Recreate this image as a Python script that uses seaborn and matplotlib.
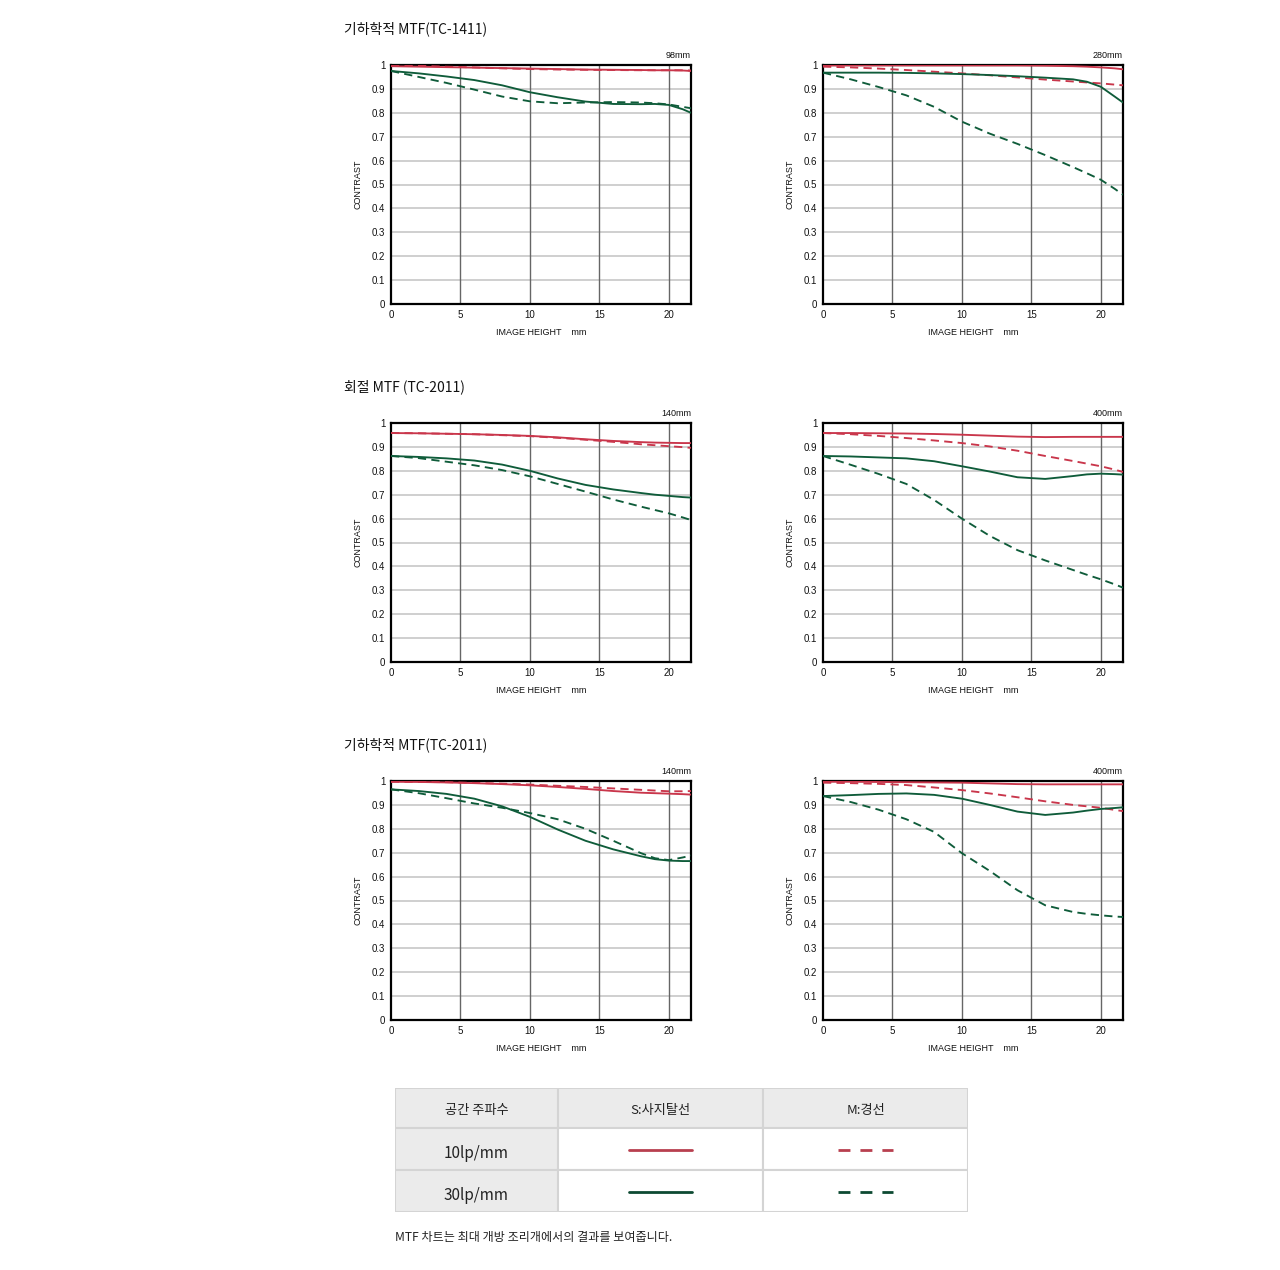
import numpy as np
import pandas as pd
import matplotlib
matplotlib.use("Agg")
import matplotlib.pyplot as plt
import seaborn as sns
from matplotlib.patches import Rectangle
from matplotlib.lines import Line2D

sns.set_style("white")
plt.rcParams["font.family"] = ["Liberation Sans", "DejaVu Sans"]
KR = ["Noto Sans CJK KR", "DejaVu Sans"]

# image height positions (mm) at which the curves were read
height_mm = [0, 2, 4, 6, 8, 10, 12, 14, 16, 18, 19, 20, 21, 21.6]

# geometric MTF (TC-1411), 98mm
s10_98 = [0.995, 0.993, 0.991, 0.989, 0.987, 0.985, 0.983, 0.981, 0.980, 0.979, 0.978, 0.978, 0.977, 0.975]
m10_98 = [1.000, 0.997, 0.993, 0.990, 0.986, 0.983, 0.981, 0.980, 0.979, 0.978, 0.978, 0.978, 0.978, 0.977]
s30_98 = [0.975, 0.965, 0.952, 0.937, 0.915, 0.886, 0.865, 0.847, 0.837, 0.836, 0.837, 0.833, 0.815, 0.800]
m30_98 = [0.975, 0.950, 0.925, 0.897, 0.868, 0.848, 0.840, 0.843, 0.845, 0.843, 0.840, 0.835, 0.825, 0.819]

# geometric MTF (TC-1411), 280mm
s10_280 = [0.998, 0.998, 0.998, 0.998, 0.998, 0.998, 0.998, 0.998, 0.997, 0.995, 0.993, 0.990, 0.986, 0.982]
m10_280 = [0.993, 0.990, 0.985, 0.979, 0.972, 0.965, 0.957, 0.948, 0.939, 0.931, 0.927, 0.923, 0.918, 0.915]
s30_280 = [0.968, 0.968, 0.968, 0.967, 0.965, 0.962, 0.958, 0.953, 0.947, 0.940, 0.930, 0.909, 0.868, 0.843]
m30_280 = [0.968, 0.940, 0.908, 0.873, 0.825, 0.763, 0.713, 0.670, 0.623, 0.573, 0.547, 0.520, 0.482, 0.457]

# diffraction MTF (TC-2011), 140mm
s10_d140 = [0.958, 0.957, 0.955, 0.953, 0.950, 0.946, 0.940, 0.932, 0.925, 0.920, 0.918, 0.917, 0.916, 0.916]
m10_d140 = [0.958, 0.957, 0.955, 0.953, 0.949, 0.945, 0.938, 0.930, 0.921, 0.911, 0.907, 0.903, 0.899, 0.896]
s30_d140 = [0.862, 0.858, 0.852, 0.843, 0.826, 0.800, 0.768, 0.741, 0.722, 0.707, 0.700, 0.695, 0.690, 0.688]
m30_d140 = [0.862, 0.853, 0.838, 0.823, 0.803, 0.777, 0.745, 0.713, 0.680, 0.650, 0.636, 0.622, 0.605, 0.594]

# diffraction MTF (TC-2011), 400mm
s10_d400 = [0.958, 0.958, 0.957, 0.956, 0.954, 0.951, 0.947, 0.943, 0.941, 0.942, 0.942, 0.942, 0.942, 0.942]
m10_d400 = [0.958, 0.953, 0.946, 0.937, 0.927, 0.916, 0.902, 0.884, 0.862, 0.841, 0.830, 0.819, 0.805, 0.795]
s30_d400 = [0.862, 0.860, 0.856, 0.852, 0.840, 0.819, 0.797, 0.773, 0.766, 0.778, 0.785, 0.788, 0.786, 0.784]
m30_d400 = [0.862, 0.825, 0.787, 0.745, 0.678, 0.600, 0.528, 0.468, 0.425, 0.385, 0.365, 0.346, 0.325, 0.311]

# geometric MTF (TC-2011), 140mm
s10_g140 = [0.997, 0.996, 0.994, 0.991, 0.987, 0.982, 0.975, 0.967, 0.958, 0.951, 0.949, 0.947, 0.945, 0.943]
m10_g140 = [0.997, 0.996, 0.995, 0.992, 0.989, 0.985, 0.980, 0.975, 0.969, 0.963, 0.960, 0.957, 0.957, 0.958]
s30_g140 = [0.965, 0.958, 0.946, 0.926, 0.894, 0.850, 0.797, 0.750, 0.714, 0.685, 0.673, 0.667, 0.665, 0.665]
m30_g140 = [0.965, 0.949, 0.928, 0.906, 0.888, 0.866, 0.840, 0.800, 0.750, 0.698, 0.677, 0.669, 0.680, 0.688]

# geometric MTF (TC-2011), 400mm
s10_g400 = [0.997, 0.997, 0.996, 0.995, 0.994, 0.993, 0.990, 0.987, 0.986, 0.986, 0.986, 0.986, 0.986, 0.986]
m10_g400 = [0.993, 0.991, 0.988, 0.983, 0.973, 0.962, 0.948, 0.932, 0.915, 0.900, 0.894, 0.888, 0.879, 0.874]
s30_g400 = [0.937, 0.941, 0.946, 0.948, 0.942, 0.926, 0.900, 0.872, 0.858, 0.868, 0.876, 0.883, 0.887, 0.890]
m30_g400 = [0.937, 0.912, 0.880, 0.840, 0.787, 0.698, 0.624, 0.543, 0.480, 0.452, 0.444, 0.438, 0.433, 0.431]

section_titles = ["기하학적 MTF(TC-1411)", "회절 MTF (TC-2011)", "기하학적 MTF(TC-2011)"]
focal_labels = [["98mm", "280mm"], ["140mm", "400mm"], ["140mm", "400mm"]]
chart_data = [
    [(s10_98, m10_98, s30_98, m30_98), (s10_280, m10_280, s30_280, m30_280)],
    [(s10_d140, m10_d140, s30_d140, m30_d140), (s10_d400, m10_d400, s30_d400, m30_d400)],
    [(s10_g140, m10_g140, s30_g140, m30_g140), (s10_g400, m10_g400, s30_g400, m30_g400)],
]

table_header = ["공간 주파수", "S:사지탈선", "M:경선"]
table_rows = ["10lp/mm", "30lp/mm"]
footnote = "MTF 차트는 최대 개방 조리개에서의 결과를 보여줍니다."

RED = "#c9364b"
GREEN = "#0f5c3a"
W, H = 1280, 1270

fig = plt.figure(figsize=(W / 100, H / 100), dpi=100)

col_left = [391, 823]
row_top = [65, 423, 781]
ax_w, ax_h = 300, 239
title_y = [29, 387, 745]

for r in range(3):
    fig.text(344 / W, 1 - title_y[r] / H, section_titles[r], family=KR,
             fontsize=10, ha="left", va="center", color="#111111")
    for c in range(2):
        ax = fig.add_axes([col_left[c] / W, 1 - (row_top[r] + ax_h) / H, ax_w / W, ax_h / H])
        s10, m10, s30, m30 = chart_data[r][c]
        df = pd.DataFrame({"h": height_mm, "s10": s10, "m10": m10, "s30": s30, "m30": m30})
        for col, color, dashed in [("s10", RED, False), ("m10", RED, True),
                                   ("s30", GREEN, False), ("m30", GREEN, True)]:
            ls = (0, (4.4, 2.8)) if dashed else "-"
            sns.lineplot(data=df, x="h", y=col, ax=ax, color=color, linestyle=ls,
                         linewidth=1.35, zorder=3)
        ax.set_xlim(0, 21.6)
        ax.set_ylim(0, 1)
        ax.set_xticks([0, 5, 10, 15, 20])
        ax.set_xticklabels(["0", "5", "10", "15", "20"])
        yt = np.round(np.arange(0, 1.01, 0.1), 1)
        ax.set_yticks(yt)
        ax.set_yticklabels(["0"] + [f"{v:g}" for v in yt[1:-1]] + ["1"])
        for v in yt[1:-1]:
            ax.axhline(v, color="#cccccc", linewidth=1.3, zorder=1)
        for v in [5, 10, 15, 20]:
            ax.axvline(v, color="#666666", linewidth=1.0, zorder=1)
        ax.tick_params(length=0, labelsize=7, pad=4, colors="#111111")
        for sp in ax.spines.values():
            sp.set_color("black")
            sp.set_linewidth(1.6)
            sp.set_visible(True)
        ax.set_xlabel("IMAGE HEIGHT    mm", fontsize=6.5, labelpad=6, color="#111111")
        ax.set_ylabel("CONTRAST", fontsize=6.5, labelpad=7, color="#111111")
        ax.text(1.0, 1.02, focal_labels[r][c], transform=ax.transAxes, ha="right",
                va="bottom", fontsize=6.5, color="#111111")

# legend table
tx, ty, tw, th = 395, 1088, 573, 124
tab = fig.add_axes([tx / W, 1 - (ty + th) / H, tw / W, th / H])
tab.set_xlim(0, 1)
tab.set_ylim(0, 1)
tab.axis("off")
col_edges = [0, 163 / tw, 368 / tw, 1]
row_edges = [1, 84 / th, 42 / th, 0]
grey = "#ebebeb"
for i in range(3):
    for j in range(3):
        fill = grey if (i == 0 or j == 0) else "white"
        tab.add_patch(Rectangle((col_edges[j], row_edges[i + 1]),
                                col_edges[j + 1] - col_edges[j],
                                row_edges[i] - row_edges[i + 1],
                                facecolor=fill, edgecolor="#d4d4d4", linewidth=1.5))
centers_x = [(col_edges[j] + col_edges[j + 1]) / 2 for j in range(3)]
centers_y = [(row_edges[i] + row_edges[i + 1]) / 2 for i in range(3)]
for j, t in enumerate(table_header):
    tab.text(centers_x[j], centers_y[0] - 0.02, t, family=KR, fontsize=9.5,
             ha="center", va="center", color="#222222")
for i, t in enumerate(table_rows):
    tab.text(centers_x[0], centers_y[i + 1] - 0.035, t, family=KR, fontsize=11,
             ha="center", va="center", color="#222222")
legend_colors = ["#b8404f", "#0d4a32"]
for i, lc in enumerate(legend_colors):
    yy = centers_y[i + 1] - 0.005
    tab.add_line(Line2D([234 / tw, 297 / tw], [yy, yy], color=lc, linewidth=2))
    tab.add_line(Line2D([443 / tw, 498 / tw], [yy, yy], color=lc, linewidth=2,
                        linestyle=(0, (4.3, 3.6))))

fig.text(395 / W, 1 - 1238 / H, footnote, family=KR, fontsize=8.7,
         ha="left", va="center", color="#222222")

fig.savefig("out.png", dpi=100)
